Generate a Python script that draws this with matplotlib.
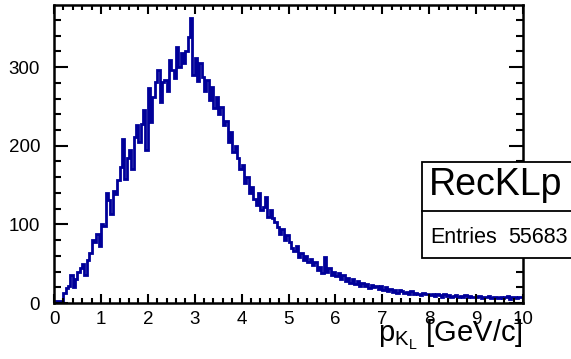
import numpy as np
import matplotlib
matplotlib.use("Agg")
import matplotlib.pyplot as plt
from matplotlib.patches import Rectangle
from matplotlib.ticker import MultipleLocator

plt.rcParams['font.family'] = ['Liberation Sans', 'DejaVu Sans']
plt.rcParams['mathtext.fontset'] = 'custom'
plt.rcParams['mathtext.rm'] = 'Liberation Sans'
plt.rcParams['mathtext.it'] = 'Liberation Sans'

# histogram: 200 bins of 0.05 GeV/c between 0 and 10
x_min, x_max = 0.0, 10.0
counts = [
    0, 2, 2, 3, 13, 19, 22, 36, 20, 30,
    40, 44, 50, 36, 55, 63, 80, 78, 88, 72,
    100, 98, 140, 131, 113, 143, 138, 156, 173, 208,
    158, 185, 194, 170, 211, 226, 205, 228, 245, 194,
    273, 230, 262, 281, 296, 255, 281, 283, 270, 309,
    296, 286, 325, 300, 318, 305, 320, 338, 362, 290,
    311, 282, 305, 287, 270, 283, 258, 275, 248, 262,
    240, 249, 226, 232, 205, 218, 192, 200, 184, 170,
    175, 152, 160, 140, 148, 132, 125, 140, 118, 122,
    135, 110, 118, 108, 103, 97, 88, 94, 80, 86,
    77, 70, 66, 72, 58, 63, 55, 60, 52, 56,
    48, 52, 42, 46, 38, 58, 40, 44, 36, 40,
    34, 38, 30, 35, 28, 32, 26, 30, 24, 28,
    22, 26, 21, 24, 19, 23, 20, 22, 18, 21,
    17, 20, 15, 18, 14, 17, 13, 16, 15, 13,
    14, 12, 15, 11, 13, 12, 10, 13, 11, 12,
    10, 12, 9, 11, 10, 8, 11, 9, 10, 8,
    9, 10, 7, 9, 8, 10, 7, 9, 8, 7,
    8, 9, 6, 8, 7, 9, 6, 8, 7, 6,
    8, 6, 7, 9, 5, 7, 8, 6, 7, 8,
]
hist_name = "RecKLp"
n_entries = 55683
x_title = r"$\mathregular{p_{K_{L}}}$ [GeV/c]"

edges = np.linspace(x_min, x_max, len(counts) + 1)

fig = plt.figure(figsize=(5.71, 3.59), dpi=100)
ax = fig.add_axes([54 / 571, 56 / 359, 469 / 571, 298 / 359])

ax.stairs(counts, edges, color="#000099", linewidth=2.0, baseline=None)
ax.set_xlim(x_min, x_max)
ax.set_ylim(0, 379)

for s in ax.spines.values():
    s.set_linewidth(1.8)

ax.xaxis.set_major_locator(MultipleLocator(1))
ax.xaxis.set_minor_locator(MultipleLocator(0.2))
ax.yaxis.set_major_locator(MultipleLocator(100))
ax.yaxis.set_minor_locator(MultipleLocator(20))
ax.tick_params(which="both", direction="in", top=True, right=True, width=1.5,
               labelsize=13.5)
ax.tick_params(axis="x", which="major", length=6.5, pad=6)
ax.tick_params(axis="x", which="minor", length=3.3)
ax.tick_params(axis="y", which="major", length=10, pad=10)
ax.tick_params(axis="y", which="minor", length=5)

fig.text(523 / 571, 1 - 342 / 359, x_title, ha="right", va="baseline", fontsize=21)

# stats box
bx0, bx1 = 422 / 571, 1.05
by0, by1 = 1 - 258 / 359, 1 - 162 / 359
bmid = 1 - 211 / 359
fig.add_artist(Rectangle((bx0, by0), bx1 - bx0, by1 - by0, transform=fig.transFigure,
                         facecolor="white", edgecolor="black", linewidth=1.3, zorder=5))
fig.add_artist(plt.Line2D([bx0, bx1], [bmid, bmid], transform=fig.transFigure,
                          color="black", linewidth=1.3, zorder=6))
fig.text(429 / 571, 1 - 195 / 359, hist_name, ha="left", va="baseline", fontsize=27, zorder=7)
fig.text(430 / 571, 1 - 243 / 359, "Entries", ha="left", va="baseline", fontsize=15.5, zorder=7)
fig.text(568 / 571, 1 - 243 / 359, str(n_entries), ha="right", va="baseline", fontsize=15.5, zorder=7)

fig.savefig("out.png", dpi=100)
